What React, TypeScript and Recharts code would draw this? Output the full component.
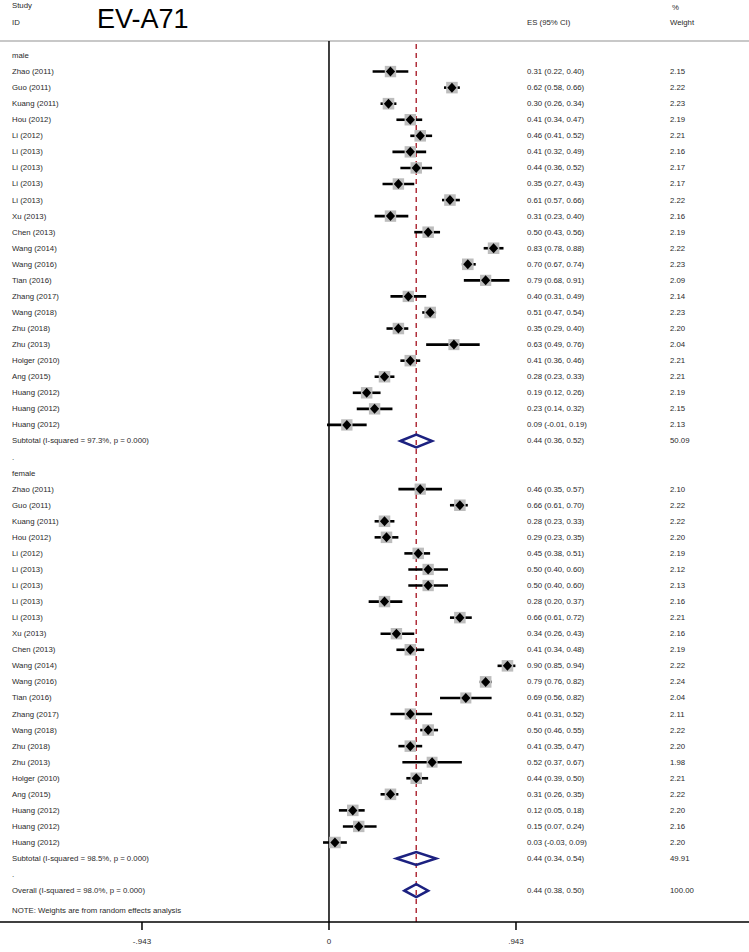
import React from 'react';
import { ScatterChart, Scatter, XAxis, YAxis, ErrorBar, ReferenceLine } from 'recharts';

// study rows, male group
const maleStudies = [
  'Zhao (2011)', 'Guo (2011)', 'Kuang (2011)', 'Hou (2012)', 'Li (2012)', 'Li (2013)', 'Li (2013)', 'Li (2013)',
  'Li (2013)', 'Xu (2013)', 'Chen (2013)', 'Wang (2014)', 'Wang (2016)', 'Tian (2016)', 'Zhang (2017)',
  'Wang (2018)', 'Zhu (2018)', 'Zhu (2013)', 'Holger (2010)', 'Ang (2015)', 'Huang (2012)', 'Huang (2012)', 'Huang (2012)',
];
const maleES = [0.31, 0.62, 0.30, 0.41, 0.46, 0.41, 0.44, 0.35, 0.61, 0.31, 0.50, 0.83, 0.70, 0.79, 0.40, 0.51, 0.35, 0.63, 0.41, 0.28, 0.19, 0.23, 0.09];
const maleLower = [0.22, 0.58, 0.26, 0.34, 0.41, 0.32, 0.36, 0.27, 0.57, 0.23, 0.43, 0.78, 0.67, 0.68, 0.31, 0.47, 0.29, 0.49, 0.36, 0.23, 0.12, 0.14, -0.01];
const maleUpper = [0.40, 0.66, 0.34, 0.47, 0.52, 0.49, 0.52, 0.43, 0.66, 0.40, 0.56, 0.88, 0.74, 0.91, 0.49, 0.54, 0.40, 0.76, 0.46, 0.33, 0.26, 0.32, 0.19];
const maleWeight = [2.15, 2.22, 2.23, 2.19, 2.21, 2.16, 2.17, 2.17, 2.22, 2.16, 2.19, 2.22, 2.23, 2.09, 2.14, 2.23, 2.20, 2.04, 2.21, 2.21, 2.19, 2.15, 2.13];

// female group
const femaleStudies = maleStudies;
const femaleES = [0.46, 0.66, 0.28, 0.29, 0.45, 0.50, 0.50, 0.28, 0.66, 0.34, 0.41, 0.90, 0.79, 0.69, 0.41, 0.50, 0.41, 0.52, 0.44, 0.31, 0.12, 0.15, 0.03];
const femaleLower = [0.35, 0.61, 0.23, 0.23, 0.38, 0.40, 0.40, 0.20, 0.61, 0.26, 0.34, 0.85, 0.76, 0.56, 0.31, 0.46, 0.35, 0.37, 0.39, 0.26, 0.05, 0.07, -0.03];
const femaleUpper = [0.57, 0.70, 0.33, 0.35, 0.51, 0.60, 0.60, 0.37, 0.72, 0.43, 0.48, 0.94, 0.82, 0.82, 0.52, 0.55, 0.47, 0.67, 0.50, 0.35, 0.18, 0.24, 0.09];
const femaleWeight = [2.10, 2.22, 2.22, 2.20, 2.19, 2.12, 2.13, 2.16, 2.21, 2.16, 2.19, 2.22, 2.24, 2.04, 2.11, 2.22, 2.20, 1.98, 2.21, 2.22, 2.20, 2.16, 2.20];

// pooled estimates
const subtotalLabels = ['Subtotal  (I-squared = 97.3%, p = 0.000)', 'Subtotal  (I-squared = 98.5%, p = 0.000)'];
const subtotalES = [0.44, 0.44];
const subtotalLower = [0.36, 0.34];
const subtotalUpper = [0.52, 0.54];
const subtotalWeight = [50.09, 49.91];
const overallLabel = 'Overall  (I-squared = 98.0%, p = 0.000)';
const overallES = 0.44;
const overallLower = 0.38;
const overallUpper = 0.50;
const overallWeight = 100.0;

const xTicks = [-0.943, 0, 0.943];

const W = 749;
const H = 952;
const TOP = 41;
const X_DOMAIN: [number, number] = [-1.659, 2.118];
const Y_DOMAIN: [number, number] = [-0.903, 53.95];
const DIAMOND_H = 0.4;
const FONT = "'Liberation Sans', Arial, sans-serif";
const NAVY = '#1c2180';
const TEXT = '#2a2a2a';

const f2 = (v: number) => v.toFixed(2);
const ciText = (es: number, lo: number, hi: number) => `${f2(es)} (${f2(lo)}, ${f2(hi)})`;
const fmtTick = (v: number) => (v === 0 ? '0' : v.toFixed(3).replace('0.', '.'));

type LabelRow = { x: number; row: number; label: string; es?: string; w?: string };
type StudyPt = { x: number; row: number; weight: number; err: [number, number] };
type DiaPt = { x: number; row: number };

const groups = [
  { name: 'male', studies: maleStudies, es: maleES, lo: maleLower, hi: maleUpper, w: maleWeight },
  { name: 'female', studies: femaleStudies, es: femaleES, lo: femaleLower, hi: femaleUpper, w: femaleWeight },
];

const diamondPts = (es: number, lo: number, hi: number, row: number): DiaPt[] => [
  { x: lo, row },
  { x: es, row: row - DIAMOND_H },
  { x: hi, row },
  { x: es, row: row + DIAMOND_H },
  { x: lo, row },
  { x: es, row: row - DIAMOND_H },
];

const studyPts: StudyPt[] = [];
const labelPts: LabelRow[] = [];
const diamonds: DiaPt[][] = [];
let r = 0;
groups.forEach((g, gi) => {
  labelPts.push({ x: 0, row: r, label: g.name });
  r++;
  g.studies.forEach((s, i) => {
    studyPts.push({ x: g.es[i], row: r, weight: g.w[i], err: [g.es[i] - g.lo[i], g.hi[i] - g.es[i]] });
    labelPts.push({ x: 0, row: r, label: s, es: ciText(g.es[i], g.lo[i], g.hi[i]), w: f2(g.w[i]) });
    r++;
  });
  diamonds.push(diamondPts(subtotalES[gi], subtotalLower[gi], subtotalUpper[gi], r));
  labelPts.push({
    x: 0, row: r, label: subtotalLabels[gi],
    es: ciText(subtotalES[gi], subtotalLower[gi], subtotalUpper[gi]), w: f2(subtotalWeight[gi]),
  });
  r++;
  labelPts.push({ x: 0, row: r, label: '.' });
  r++;
});
diamonds.push(diamondPts(overallES, overallLower, overallUpper, r));
labelPts.push({ x: 0, row: r, label: overallLabel, es: ciText(overallES, overallLower, overallUpper), w: f2(overallWeight) });
labelPts.push({ x: 0, row: r + 1.25, label: 'NOTE: Weights are from random effects analysis' });

const txt = { fontFamily: FONT, fontSize: 7.8, fill: TEXT };

const BoxShape = (props: any) => {
  const { cx, cy, payload } = props;
  const side = 11.5 * Math.sqrt(payload.weight / 2.2);
  return <rect x={cx - side / 2} y={cy - side / 2} width={side} height={side} fill="#bdbdbd" />;
};

const PointShape = (props: any) => {
  const { cx, cy } = props;
  return <polygon points={`${cx - 4.6},${cy} ${cx},${cy - 5} ${cx + 4.6},${cy} ${cx},${cy + 5}`} fill="#000" />;
};

const LabelShape = (props: any) => {
  const { cy, payload } = props;
  return (
    <g>
      <text x={12} y={cy} dominantBaseline="central" {...txt}>{payload.label}</text>
      {payload.es && <text x={527} y={cy} dominantBaseline="central" {...txt}>{payload.es}</text>}
      {payload.w && <text x={670} y={cy} dominantBaseline="central" {...txt}>{payload.w}</text>}
    </g>
  );
};

const Header = () => (
  <svg width={W} height={TOP} style={{ position: 'absolute', left: 0, top: 0 }}>
    <text x={12} y={5} dominantBaseline="central" {...txt}>Study</text>
    <text x={12} y={22} dominantBaseline="central" {...txt}>ID</text>
    <text x={97} y={28} fontFamily={FONT} fontSize={27} fill="#000">EV-A71</text>
    <text x={527} y={22} dominantBaseline="central" {...txt}>ES (95% CI)</text>
    <text x={672} y={7} dominantBaseline="central" {...txt}>%</text>
    <text x={670} y={22} dominantBaseline="central" {...txt}>Weight</text>
  </svg>
);

export default function App() {
  return (
    <div style={{ position: 'absolute', left: 0, top: 0, width: W, height: H, background: '#fff' }}>
      <Header />
      <ScatterChart width={W} height={H} margin={{ top: TOP, right: 0, bottom: 0, left: 0 }}>
        <XAxis
          type="number"
          dataKey="x"
          domain={X_DOMAIN}
          allowDataOverflow
          ticks={xTicks}
          interval={0}
          tickFormatter={fmtTick}
          height={30}
          tickSize={8}
          tickMargin={8}
          axisLine={{ stroke: '#000', strokeWidth: 1.5 }}
          tickLine={{ stroke: '#000', strokeWidth: 1.5 }}
          tick={{ fontSize: 8, fill: TEXT, fontFamily: FONT }}
        />
        <YAxis type="number" dataKey="row" domain={Y_DOMAIN} allowDataOverflow reversed hide width={0} />
        <ReferenceLine y={Y_DOMAIN[0]} stroke="#c8c8c8" strokeWidth={2} />
        <ReferenceLine x={0} stroke="#000" strokeWidth={1.5} />
        <ReferenceLine x={overallES} stroke="#b0303c" strokeWidth={1.5} strokeDasharray="5 4" />
        <Scatter data={labelPts} shape={LabelShape} isAnimationActive={false} />
        <Scatter data={studyPts} shape={BoxShape} isAnimationActive={false} />
        <Scatter data={studyPts} shape={PointShape} isAnimationActive={false}>
          <ErrorBar dataKey="err" direction="x" width={0} stroke="#000" strokeWidth={2.6} />
        </Scatter>
        {diamonds.map((d, i) => (
          <Scatter
            key={i}
            data={d}
            line={{ stroke: NAVY, strokeWidth: 2.5, fill: 'none' }}
            shape={() => <g />}
            isAnimationActive={false}
          />
        ))}
      </ScatterChart>
    </div>
  );
}
